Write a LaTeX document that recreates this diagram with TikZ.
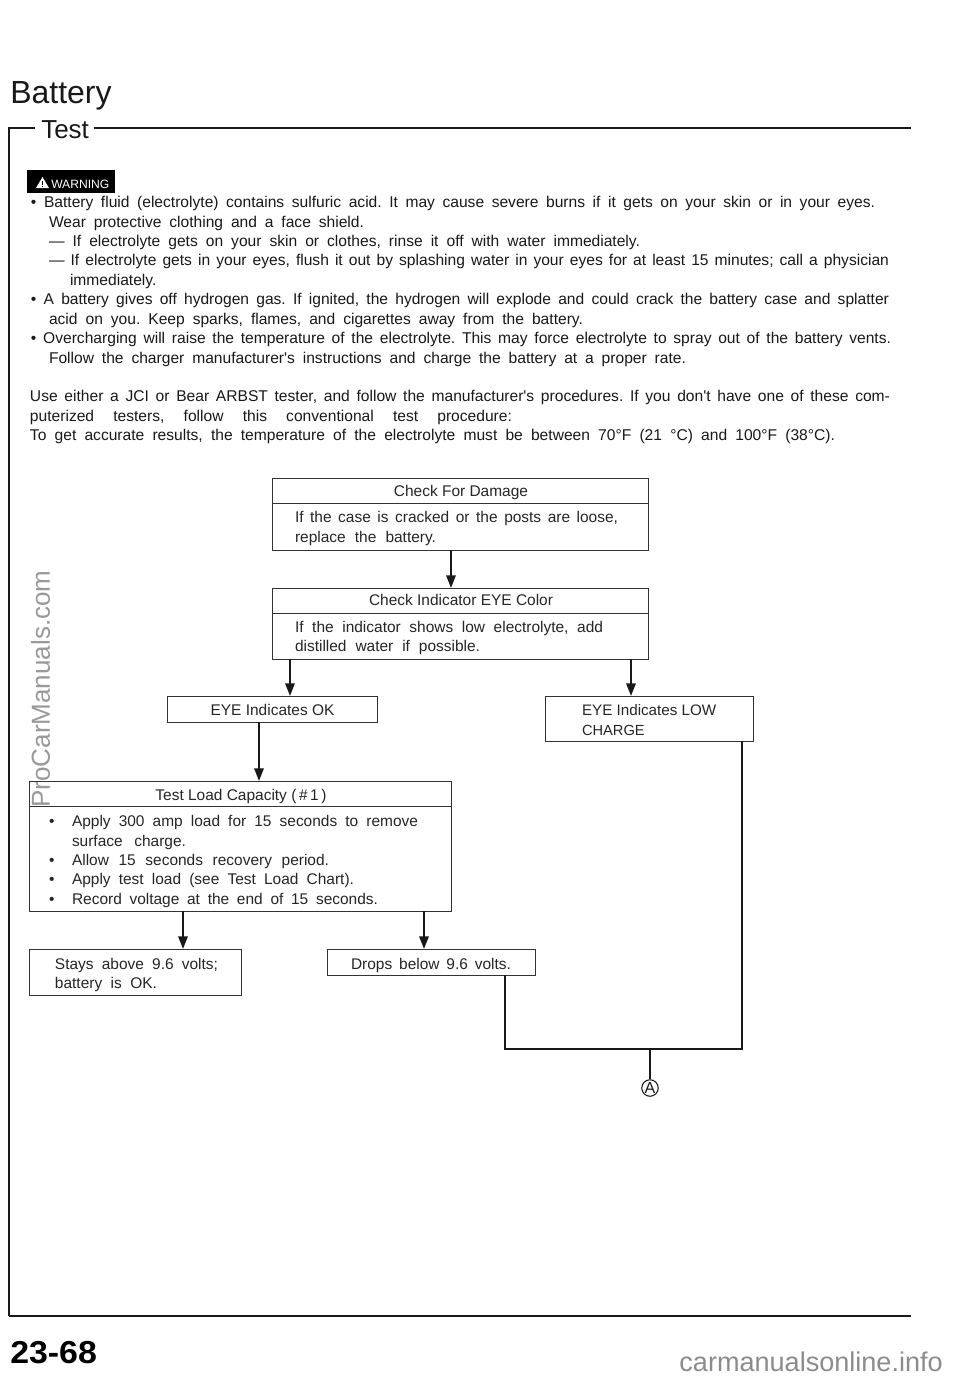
\documentclass[tikz,border=0pt]{standalone}
\usepackage{fontspec}
\setmainfont{Liberation Sans}
\newfontfamily\plainface{Liberation Sans}
\newcommand{\apos}{{\plainface'}}
\frenchspacing
\usetikzlibrary{arrows.meta}
\tikzset{
  pbox/.style={draw=black!80,line width=0.65pt,fill=none,inner sep=0pt,outer sep=0pt,rectangle},
  flow/.style={line width=1.5pt,draw=black!90,-{Triangle[length=9.5pt,width=7pt]}},
  wire/.style={line width=1.3pt,draw=black!90,line join=miter},
  frame/.style={line width=1.5pt,draw=black!90},
  body/.style={anchor=base west,inner sep=0pt,outer sep=0pt,font=\fontsize{11.7pt}{13pt}\selectfont,text=black!90},
  boxt/.style={anchor=base west,inner sep=0pt,outer sep=0pt,font=\fontsize{11.6pt}{13pt}\selectfont,text=black!85},
  title/.style={anchor=base,inner sep=0pt,outer sep=0pt,font=\fontsize{11.6pt}{13pt}\selectfont,text=black!85},
}
% line of text set to an exact width (px)
\newcommand{\tl}[6][body]{\node[#1] (#2) at (#3,#4) {\hbox to \dimexpr #5pt*3/4\relax{#6}};}
\newcommand{\pb}[5]{\node[pbox,minimum width=#4*0.75pt,minimum height=#5*0.75pt] (#1) at (#2,#3) {};}
\begin{document}
\begin{tikzpicture}[x=0.75pt,y=-0.75pt]
\useasboundingbox (0,0) rectangle (960,1379);
\fill[white] (0,0) rectangle (960,1379);

% watermarks behind the page content
\node[anchor=base,rotate=90,inner sep=0pt,text=black!40,font=\fontsize{19.5pt}{22pt}\selectfont] (wm1) at (50,689) {ProCarManuals.com};
\node[anchor=base east,inner sep=0pt,text=black!45,font=\fontsize{20.3pt}{24pt}\selectfont] (wm2) at (943,1371) {carmanualsonline.info};

% headings and frame
\node[anchor=base west,inner sep=0pt,text=black!90,font=\fontsize{24pt}{28pt}\selectfont] (hbat) at (10,103) {Battery};
\node[anchor=base west,inner sep=0pt,text=black!90,font=\fontsize{19.5pt}{24pt}\selectfont] (htest) at (41,138) {Test};
\coordinate (fa) at (9,128);
\coordinate (fb) at (9,1316);
\coordinate (fc) at (911,1316);
\coordinate (fd) at (911,128);
\draw[frame] (htest.west |- fa) ++(-6,0) -- (fa) -- (fb);
\draw[frame,line width=2pt] (fb) -- (fc);
\draw[frame,line width=1.3pt] (htest.east |- fa) ++(5,0) -- (fd);

% warning badge
\fill[black] (27,170) rectangle (115,193);
\fill[white] (36,188) -- (42.5,177) -- (49,188) -- cycle;
\fill[black] (41.9,180.5) rectangle (43.1,185);
\fill[black] (41.9,185.8) rectangle (43.1,187);
\node[anchor=base west,inner sep=0pt,text=white] (warn) at (51,188) {\resizebox{43.5pt}{!}{WARNING}};

% body text
\node[body] (b0) at (31,207) {•};
\tl{l1}{44}{207}{831}{Battery fluid (electrolyte) contains sulfuric acid. It may cause severe burns if it gets on your skin or in your eyes.}
\tl{l2}{49}{227}{315}{Wear protective clothing and a face shield.}
\tl{l3}{49}{246}{591}{— If electrolyte gets on your skin or clothes, rinse it off with water immediately.}
\tl{l4}{49}{265}{840}{— If electrolyte gets in your eyes, flush it out by splashing water in your eyes for at least 15 minutes; call a physician}
\tl{l5}{70}{285}{91}{immediately.}
\tl{l6}{31}{304}{858}{• A battery gives off hydrogen gas. If ignited, the hydrogen will explode and could crack the battery case and splatter}
\tl{l7}{49}{324}{534}{acid on you. Keep sparks, flames, and cigarettes away from the battery.}
\tl{l8}{31}{343}{860}{• Overcharging will raise the temperature of the electrolyte. This may force electrolyte to spray out of the battery vents.}
\tl{l9}{49}{363}{637}{Follow the charger manufacturer\apos s instructions and charge the battery at a proper rate.}
\tl{l10}{30}{401}{860}{Use either a JCI or Bear ARBST tester, and follow the manufacturer\apos s procedures. If you don\apos t have one of these com-}
\tl{l11}{30}{421}{482}{puterized testers, follow this conventional test procedure:}
\tl{l12}{30}{440}{805}{To get accurate results, the temperature of the electrolyte must be between 70°F (21 °C) and 100°F (38°C).}

% flow boxes
\pb{bA}{460}{514}{376}{72}
\pb{bB}{460}{623.5}{376}{71}
\pb{bC}{272}{709}{210}{26}
\pb{bD}{649}{718.5}{208}{45}
\pb{bE}{240}{846}{422}{130}
\pb{bF}{135}{972}{212}{46}
\pb{bG}{431}{962}{208}{26}

\coordinate (dA) at (0,503);
\coordinate (dB) at (0,613);
\coordinate (dE) at (0,806);
\draw[pbox] (bA.west |- dA) -- (bA.east |- dA);
\draw[pbox] (bB.west |- dB) -- (bB.east |- dB);
\draw[pbox] (bE.west |- dE) -- (bE.east |- dE);

\node[title] (tA) at (461,496) {Check For Damage};
\tl[boxt]{tA1}{295}{522}{323}{If the case is cracked or the posts are loose,}
\tl[boxt]{tA2}{295}{542}{141}{replace the battery.}
\node[title] (tB) at (461,605) {Check Indicator EYE Color};
\tl[boxt]{tB1}{295}{632}{308}{If the indicator shows low electrolyte, add}
\tl[boxt]{tB2}{295}{651}{185}{distilled water if possible.}
\node[title] (tC) at (272.5,715) {EYE Indicates OK};
\node[boxt,font=\fontsize{11.4pt}{13pt}\selectfont] (tD1) at (582,715) {EYE Indicates LOW};
\node[boxt,font=\fontsize{11pt}{13pt}\selectfont] (tD2) at (582,735) {CHARGE};
\node[title] (tE) at (241,800) {Test Load Capacity (\,\#\,1\,)};
\node[boxt] (be1) at (49,826) {•};
\tl[boxt]{tE1}{72}{826}{346}{Apply 300 amp load for 15 seconds to remove}
\tl[boxt]{tE2}{72}{846}{114}{surface charge.}
\node[boxt] (be2) at (49,865) {•};
\tl[boxt]{tE3}{72}{865}{257}{Allow 15 seconds recovery period.}
\node[boxt] (be3) at (49,884) {•};
\tl[boxt]{tE4}{72}{884}{282}{Apply test load (see Test Load Chart).}
\node[boxt] (be4) at (49,904) {•};
\tl[boxt]{tE5}{72}{904}{306}{Record voltage at the end of 15 seconds.}
\tl[boxt]{tF1}{55}{969}{163}{Stays above 9.6 volts;}
\tl[boxt]{tF2}{55}{988}{102}{battery is OK.}
\tl[boxt]{tG1}{351}{969}{160}{Drops below 9.6 volts.}

% connectors
\coordinate (x451) at (451,0);
\coordinate (x290) at (290,0);
\coordinate (x631) at (631,0);
\coordinate (x259) at (259,0);
\coordinate (x183) at (183,0);
\coordinate (x424) at (424,0);
\coordinate (x505) at (505,0);
\coordinate (x742) at (742,0);
\coordinate (x650) at (650,0);
\coordinate (y1049) at (0,1049);
\node[draw=black!90,line width=0.8pt,circle,minimum size=16.5*0.75pt,inner sep=0pt,font=\fontsize{12pt}{13pt}\selectfont,text=black!90] (cA) at (650,1088) {A};
\draw[flow] (bA.south -| x451) -- (bB.north -| x451);
\draw[flow] (bB.south -| x290) -- (bC.north -| x290);
\draw[flow] (bB.south -| x631) -- (bD.north -| x631);
\draw[flow] (bC.south -| x259) -- (bE.north -| x259);
\draw[flow] (bE.south -| x183) -- (bF.north -| x183);
\draw[flow] (bE.south -| x424) -- (bG.north -| x424);
\draw[wire] (bG.south -| x505) -- (x505 |- y1049) -- (x742 |- y1049) -- (bD.south -| x742);
\draw[wire] (x650 |- y1049) -- (cA.north);

% page number
\node[anchor=base west,inner sep=0pt,text=black] (pg) at (10,1363) {\resizebox{65pt}{16.6pt}{\bfseries 23-68}};
\end{tikzpicture}
\end{document}
